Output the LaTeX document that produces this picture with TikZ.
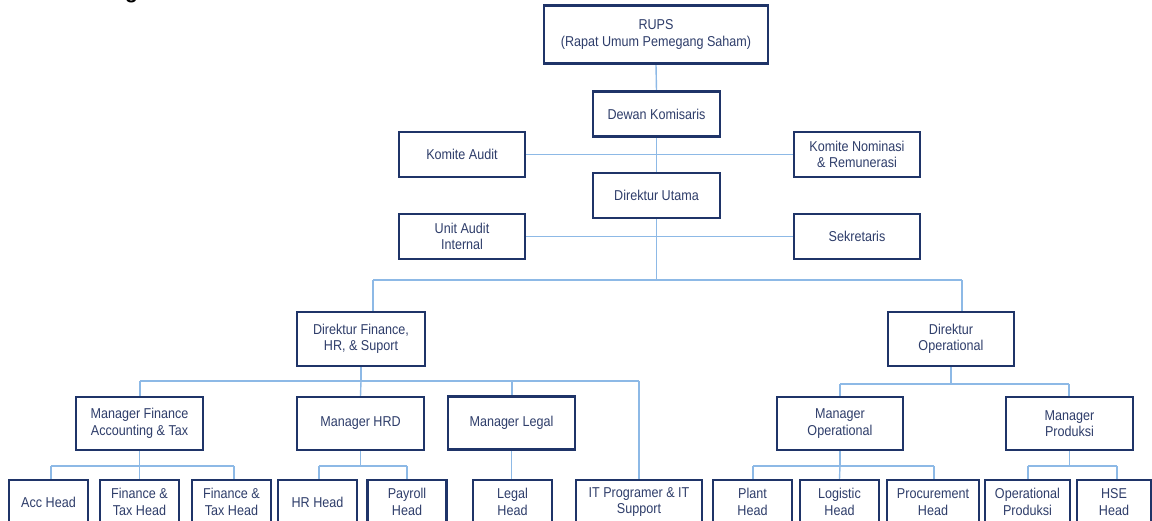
\documentclass[tikz,border=0pt]{standalone}
\usepackage{fontspec}
\setmainfont{Liberation Sans}[FakeStretch=0.88]
\newfontfamily\titlefont{Liberation Sans}
\usetikzlibrary{backgrounds}
\definecolor{boxline}{HTML}{1F3468}
\definecolor{boxtext}{HTML}{2E3D6A}
\definecolor{conn}{HTML}{8DB9E6}
\tikzset{
  orgbox/.style={draw=boxline, line width=2.1pt, fill=white, text=boxtext,
    align=center, inner sep=1pt, font=\fontsize{14.3}{16.5}\selectfont},
  topbox/.style={orgbox, minimum width=127pt, minimum height=45pt},
  dirbox/.style={orgbox, minimum width=127pt, minimum height=54pt},
  mgrbox/.style={orgbox, minimum width=127pt, minimum height=53pt},
  headbox/.style={orgbox, minimum width=79pt, minimum height=44pt},
  connline/.style={draw=conn, line width=1.4pt},
}
\begin{document}
\begin{tikzpicture}[x=1pt,y=-1pt]
\useasboundingbox (0,0) rectangle (1152,520);
% title (cut off at the top)
\node[anchor=base west, inner sep=0pt, font=\titlefont\fontsize{21}{24}\selectfont\bfseries] (title) at (13,-1.5) {Struktur Organisasi};
% top levels
\node[orgbox, minimum width=224pt, minimum height=58pt] (rups) at (656,34.5) {RUPS\\(Rapat Umum Pemegang Saham)};
\node[topbox] (dewan) at (656.5,114) {Dewan Komisaris};
\node[topbox, minimum width=126pt] (kaudit) at (462,154.5) {Komite Audit};
\node[topbox, minimum width=126pt] (knom) at (857,154.5) {Komite Nominasi\\\& Remunerasi};
\node[topbox] (dirut) at (656.5,195.5) {Direktur Utama};
\node[topbox, minimum width=126pt] (uai) at (462,236.5) {Unit Audit\\Internal};
\node[topbox, minimum width=126pt] (sekr) at (857,236.5) {Sekretaris};
% directors
\node[dirbox, minimum width=128pt] (dfin) at (361,339) {Direktur Finance,\\HR, \& Suport};
\node[dirbox, minimum width=126pt] (dop) at (951,339) {Direktur\\Operational};
% managers
\node[mgrbox] (mfin) at (139.5,423.5) {Manager Finance\\Accounting \& Tax};
\node[mgrbox] (mhrd) at (360.5,423.5) {Manager HRD};
\node[mgrbox] (mleg) at (511.5,423) {Manager Legal};
\node[mgrbox, minimum width=126pt] (mop) at (840,423.5) {Manager\\Operational};
\node[mgrbox] (mprod) at (1069.5,423.5) {Manager\\Produksi};
% heads
\node[headbox] (acc) at (48.5,502) {Acc Head};
\node[headbox] (fth1) at (139.5,502) {Finance \&\\Tax Head};
\node[headbox] (fth2) at (231.5,502) {Finance \&\\Tax Head};
\node[headbox] (hrh) at (317.5,502) {HR Head};
\node[headbox] (payh) at (407,502) {Payroll\\Head};
\node[headbox] (legh) at (512.5,502) {Legal\\Head};
\node[headbox, minimum width=126pt] (itps) at (639,502) {IT Programer \& IT\\Support};
\node[headbox] (plant) at (752.5,502) {Plant\\Head};
\node[headbox] (logh) at (839.5,502) {Logistic\\Head};
\node[headbox, minimum width=92pt] (proc) at (933,502) {Procurement\\Head};
\node[headbox, minimum width=85pt] (opprod) at (1027.5,502) {Operational\\Produksi};
\node[headbox, minimum width=74pt] (hse) at (1114,502) {HSE\\Head};
% bus coordinates
\coordinate (b1L) at (373,280);
\coordinate (b1R) at (962,280);
\coordinate (b2L) at (140,381);
\coordinate (b2R) at (639,381);
\coordinate (b2M) at (512,381);
\coordinate (b3L) at (51,466);
\coordinate (b3R) at (234,466);
\coordinate (b4L) at (319,466);
\coordinate (b4R) at (407,466);
\coordinate (b5L) at (840,384);
\coordinate (b5R) at (1069,384);
\coordinate (b6L) at (753,466);
\coordinate (b6R) at (934,466);
\coordinate (b7L) at (1028,466);
\coordinate (b7R) at (1117,466);
\begin{scope}[on background layer]
\draw[connline] (rups.south) -- (dewan.north);
\draw[connline] (dewan.south) -- (dirut.north);
\draw[connline] (kaudit.east) -- (knom.west);
\draw[connline] (uai.east) -- (sekr.west);
\draw[connline] (dirut.south) -- (dirut.south |- b1L);
\draw[connline] (b1L) -- (b1R);
\draw[connline] (b1L) -- (b1L |- dfin.north);
\draw[connline] (b1R) -- (b1R |- dop.north);
% finance branch
\draw[connline] (dfin.south) -- (dfin.south |- b2L);
\draw[connline] (b2L) -- (b2R);
\draw[connline] (b2L) -- (b2L |- mfin.north);
\draw[connline] (dfin.south |- b2L) -- (mhrd.north);
\draw[connline] (b2M) -- (b2M |- mleg.north);
\draw[connline] (b2R) -- (b2R |- itps.north);
\draw[connline] (mfin.south) -- (mfin.south |- b3L);
\draw[connline] (b3L) -- (b3R);
\draw[connline] (b3L) -- (b3L |- acc.north);
\draw[connline] (mfin.south |- b3L) -- (fth1.north);
\draw[connline] (b3R) -- (b3R |- fth2.north);
\draw[connline] (mhrd.south) -- (mhrd.south |- b4L);
\draw[connline] (b4L) -- (b4R);
\draw[connline] (b4L) -- (b4L |- hrh.north);
\draw[connline] (b4R) -- (b4R |- payh.north);
\draw[connline] (mleg.south) -- (mleg.south |- legh.north);
% operational branch
\draw[connline] (dop.south) -- (dop.south |- b5L);
\draw[connline] (b5L) -- (b5R);
\draw[connline] (b5L) -- (b5L |- mop.north);
\draw[connline] (b5R) -- (b5R |- mprod.north);
\draw[connline] (mop.south) -- (mop.south |- b6L);
\draw[connline] (b6L) -- (b6R);
\draw[connline] (b6L) -- (b6L |- plant.north);
\draw[connline] (mop.south |- b6L) -- (logh.north);
\draw[connline] (b6R) -- (b6R |- proc.north);
\draw[connline] (mprod.south) -- (mprod.south |- b7L);
\draw[connline] (b7L) -- (b7R);
\draw[connline] (b7L) -- (b7L |- opprod.north);
\draw[connline] (b7R) -- (b7R |- hse.north);
\end{scope}
\end{tikzpicture}
\end{document}
